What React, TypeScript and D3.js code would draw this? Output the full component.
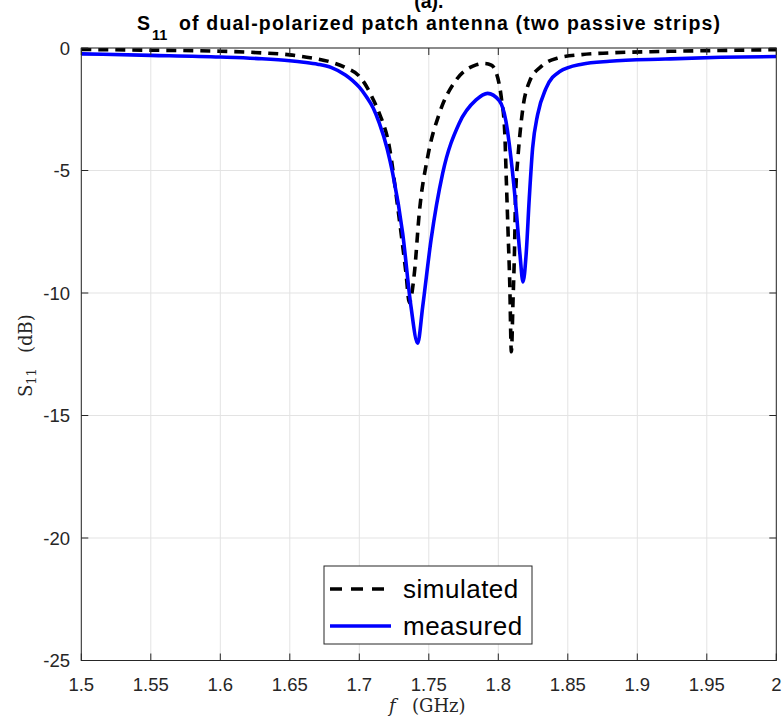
import React from "react";
import * as d3 from "d3";

const simFreq = [1.5, 1.55, 1.6, 1.63, 1.65, 1.66, 1.67, 1.68, 1.69, 1.7, 1.705, 1.71, 1.7144, 1.7216, 1.7276, 1.7336, 1.736, 1.7396, 1.7432, 1.7492, 1.7576, 1.7696, 1.784, 1.79, 1.795, 1.7986, 1.8022, 1.8046, 1.8058, 1.807, 1.8082, 1.8094, 1.8106, 1.8117, 1.8124, 1.8141, 1.816, 1.8177, 1.8225, 1.8309, 1.8429, 1.86, 1.88, 1.92, 1.96, 2.0];
const simDb = [-0.06, -0.09, -0.13, -0.2, -0.28, -0.36, -0.45, -0.58, -0.8, -1.15, -1.55, -2.1, -2.67, -4.03, -6.48, -9.2, -10.4, -9.2, -6.7, -4.44, -2.67, -1.31, -0.69, -0.63, -0.7, -1.02, -2.04, -3.4, -5.44, -7.48, -9.52, -12.4, -10.3, -8.16, -6.12, -4.49, -3.27, -2.45, -1.36, -0.75, -0.41, -0.27, -0.2, -0.14, -0.1, -0.07];

const measFreq = [1.5, 1.55, 1.6, 1.63, 1.65, 1.66, 1.67, 1.68, 1.69, 1.695, 1.7, 1.705, 1.71, 1.7144, 1.72, 1.724, 1.7312, 1.7372, 1.742, 1.7456, 1.7516, 1.76, 1.7719, 1.784, 1.7923, 1.8007, 1.8055, 1.8091, 1.8127, 1.8156, 1.8178, 1.82, 1.8223, 1.8247, 1.8283, 1.8343, 1.8439, 1.86, 1.88, 1.92, 1.96, 2.0];
const measDb = [-0.24, -0.3, -0.37, -0.44, -0.52, -0.58, -0.66, -0.8, -1.1, -1.32, -1.6, -1.98, -2.45, -3.07, -4.1, -5.11, -7.56, -10.56, -12.05, -10.56, -7.84, -5.11, -3.07, -2.12, -1.85, -2.15, -2.99, -4.49, -6.5, -8.44, -9.55, -8.44, -6.12, -4.08, -2.72, -1.65, -0.97, -0.66, -0.54, -0.45, -0.38, -0.35];

const xTicks = [1.5, 1.55, 1.6, 1.65, 1.7, 1.75, 1.8, 1.85, 1.9, 1.95, 2];
const xTickLabels = ["1.5", "1.55", "1.6", "1.65", "1.7", "1.75", "1.8", "1.85", "1.9", "1.95", "2"];
const yTicks = [0, -5, -10, -15, -20, -25];
const yTickLabels = ["0", "-5", "-10", "-15", "-20", "-25"];
const seriesNames = ["simulated", "measured"];

export default function App() {
  const W = 784, H = 725;
  const left = 81.3, right = 776.3, top = 48, bottom = 660.5;
  const x = d3.scaleLinear().domain([1.5, 2]).range([left, right]);
  const y = d3.scaleLinear().domain([-25, 0]).range([bottom, top]);
  const line = d3.line<[number, number]>().x(d => x(d[0])).y(d => y(d[1])).curve(d3.curveMonotoneX);
  const simPath = line(simFreq.map((f, i) => [f, simDb[i]]) as [number, number][]) || "";
  const measPath = line(measFreq.map((f, i) => [f, measDb[i]]) as [number, number][]) || "";
  const sans = "'Liberation Sans', Arial, Helvetica, sans-serif";
  const serif = "'DejaVu Serif', 'Liberation Serif', serif";
  const cx = (left + right) / 2;
  return (
    <svg width={W} height={H} style={{ position: "absolute", left: 0, top: 0, background: "#fff" }}>
      <defs>
        <clipPath id="plotclip">
          <rect x={left} y={top} width={right - left} height={bottom - top} />
        </clipPath>
      </defs>
      <rect x={0} y={0} width={W} height={H} fill="#fff" />
      {xTicks.map((t, i) => (
        <line key={"gx" + i} x1={x(t)} x2={x(t)} y1={top} y2={bottom} stroke="#e3e3e3" strokeWidth={1} />
      ))}
      {yTicks.map((t, i) => (
        <line key={"gy" + i} x1={left} x2={right} y1={y(t)} y2={y(t)} stroke="#e3e3e3" strokeWidth={1} />
      ))}
      <g clipPath="url(#plotclip)">
        <path d={simPath} fill="none" stroke="#000" strokeWidth={3.6} strokeDasharray="10,7" strokeLinejoin="round" />
        <path d={measPath} fill="none" stroke="#0000ff" strokeWidth={3.6} strokeLinejoin="round" />
      </g>
      <rect x={left} y={top} width={right - left} height={bottom - top} fill="none" stroke="#262626" strokeWidth={1} />
      {xTicks.map((t, i) => (
        <g key={"tx" + i}>
          <line x1={x(t)} x2={x(t)} y1={bottom} y2={bottom - 7} stroke="#262626" />
          <line x1={x(t)} x2={x(t)} y1={top} y2={top + 7} stroke="#262626" />
          <text x={x(t)} y={691} textAnchor="middle" fontFamily={sans} fontSize={18.5} fill="#262626">{xTickLabels[i]}</text>
        </g>
      ))}
      {yTicks.map((t, i) => (
        <g key={"ty" + i}>
          <line x1={left} x2={left + 7} y1={y(t)} y2={y(t)} stroke="#262626" />
          <line x1={right} x2={right - 7} y1={y(t)} y2={y(t)} stroke="#262626" />
          <text x={70} y={y(t) + 6.5} textAnchor="end" fontFamily={sans} fontSize={18.5} fill="#262626">{yTickLabels[i]}</text>
        </g>
      ))}
      <text y={712} fontFamily={serif} fontSize={18} fill="#262626">
        <tspan x={389} fontStyle="italic">f</tspan>
        <tspan x={412}>(GHz)</tspan>
      </text>
      <text transform="translate(32,397) rotate(-90)" fontFamily={serif} fontSize={18} fill="#262626">
        <tspan x={0}>S</tspan>
        <tspan fontSize={13} dy={4}>11</tspan>
        <tspan x={44} dy={-4}>(dB)</tspan>
      </text>
      <text x={cx} y={8} textAnchor="middle" fontFamily={sans} fontSize={19.5} fontWeight="bold" fill="#000">(a).</text>
      <text x={137} y={30} fontFamily={sans} fontSize={19.5} fontWeight="bold" fill="#000">S</text>
      <text x={152} y={40} fontFamily={sans} fontSize={14.5} fontWeight="bold" fill="#000">11</text>
      <text x={179} y={30} fontFamily={sans} fontSize={19.5} fontWeight="bold" fill="#000" textLength={541} lengthAdjust="spacing">of dual-polarized patch antenna (two passive strips)</text>
      <rect x={324} y={566} width={208} height={78} fill="#fff" stroke="#262626" strokeWidth={1} />
      <line x1={330} x2={391} y1={589} y2={589} stroke="#000" strokeWidth={3.6} strokeDasharray="12,9" />
      <line x1={330} x2={391} y1={626} y2={626} stroke="#0000ff" strokeWidth={3.6} />
      <text x={403} y={598} fontFamily={sans} fontSize={26} letterSpacing={0.5} fill="#000">{seriesNames[0]}</text>
      <text x={403} y={635} fontFamily={sans} fontSize={26} letterSpacing={0.5} fill="#000">{seriesNames[1]}</text>
    </svg>
  );
}
